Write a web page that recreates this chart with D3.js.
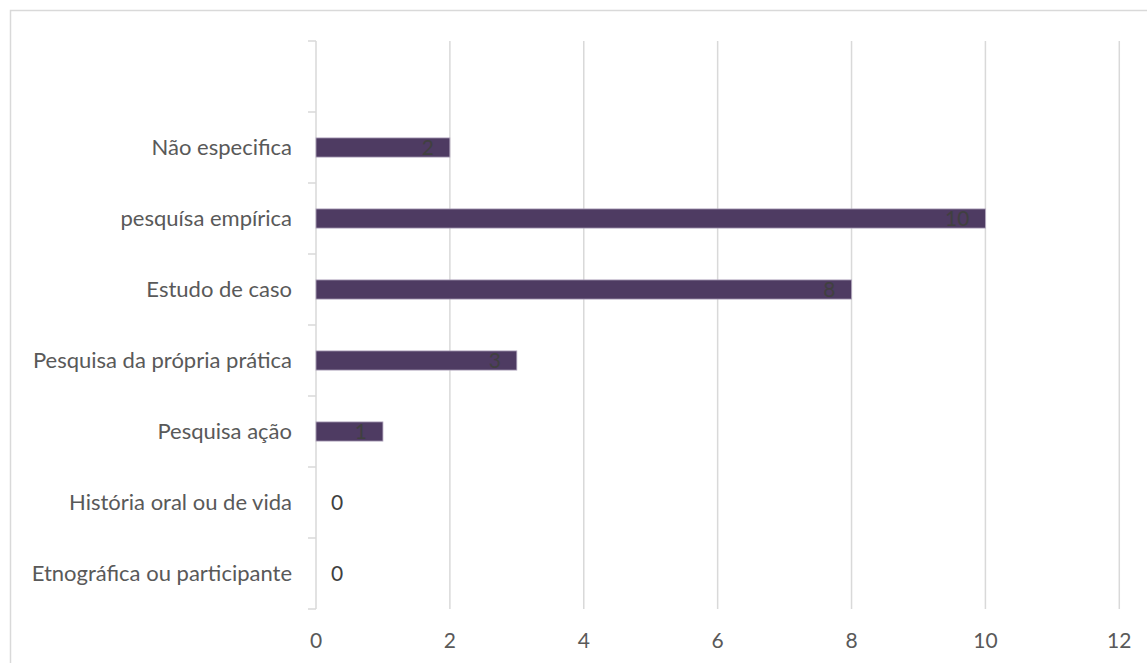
<!DOCTYPE html>
<html>
<head>
<meta charset="utf-8">
<script src="https://cdn.jsdelivr.net/npm/d3@7"></script>
<style>
  html, body { margin: 0; padding: 0; background: #ffffff; }
  svg { display: block; }
  text { font-family: Lato, "Open Sans", sans-serif; }
</style>
</head>
<body>
<svg id="chart" width="1147" height="663"></svg>
<script>
// ---- data (bottom to top as drawn) ----
const categories = [
  "Etnográfica ou participante",
  "História oral ou de vida",
  "Pesquisa ação",
  "Pesquisa da própria prática",
  "Estudo de caso",
  "pesquísa empírica",
  "Não especifica",
  ""
];
const values = [0, 0, 1, 3, 8, 10, 2, null];
const xTicks = [0, 2, 4, 6, 8, 10, 12];

(function () {
const svg = d3.select("#chart");
const W = 1147, H = 663;

svg.append("rect")
  .attr("x", 10.5).attr("y", 10.5)
  .attr("width", W + 20).attr("height", H + 20)
  .attr("fill", "#ffffff")
  .attr("stroke", "#d9d9d9").attr("stroke-width", 1.5);

const pLeft = 316, pRight = 1119.3, pTop = 41, pBottom = 609;

const x = d3.scaleLinear().domain([0, 12]).range([pLeft, pRight]);
const keys = d3.range(categories.length).map(String);
const y = d3.scaleBand().domain(keys)
  .range([pBottom, pTop]).paddingInner(0.73).paddingOuter(0.365);
const band = d3.scaleBand().domain(keys).range([pBottom, pTop]);

svg.append("g").selectAll("line")
  .data(xTicks.filter(t => t > 0))
  .join("line")
  .attr("x1", d => x(d)).attr("x2", d => x(d))
  .attr("y1", pTop).attr("y2", pBottom)
  .attr("stroke", "#d9d9d9").attr("stroke-width", 1.5);

svg.append("line")
  .attr("x1", pLeft).attr("x2", pLeft).attr("y1", pTop).attr("y2", pBottom)
  .attr("stroke", "#d9d9d9").attr("stroke-width", 1.5);
const bounds = d3.range(categories.length + 1).map(i => pBottom - i * band.step());
svg.append("g").selectAll("line")
  .data(bounds).join("line")
  .attr("x1", pLeft - 8).attr("x2", pLeft)
  .attr("y1", d => d).attr("y2", d => d)
  .attr("stroke", "#d9d9d9").attr("stroke-width", 1.5);

svg.append("g").selectAll("text")
  .data(categories).join("text")
  .attr("x", pLeft - 24)
  .attr("y", (d, i) => band(String(i)) + band.bandwidth() / 2)
  .attr("dy", "0.36em")
  .attr("text-anchor", "end")
  .attr("font-size", 22)
  .attr("fill", "#595959")
  .text(d => d);

svg.append("g").selectAll("text")
  .data(xTicks).join("text")
  .attr("x", d => x(d)).attr("y", 648)
  .attr("text-anchor", "middle")
  .attr("font-size", 21)
  .attr("fill", "#595959")
  .text(d => d);

const idx = d3.range(categories.length).filter(i => values[i] !== null);
svg.append("g").selectAll("rect")
  .data(idx.filter(i => values[i] > 0)).join("rect")
  .attr("x", x(0))
  .attr("y", i => y(String(i)))
  .attr("width", i => x(values[i]) - x(0))
  .attr("height", y.bandwidth())
  .attr("fill", "#4e3b62")
  .attr("stroke", "#b3a8bf").attr("stroke-width", 0.8);

svg.append("g").selectAll("text")
  .data(idx).join("text")
  .attr("x", i => values[i] > 0 ? x(values[i]) - 16 : x(0) + 15)
  .attr("y", i => band(String(i)) + band.bandwidth() / 2)
  .attr("dy", "0.36em")
  .attr("text-anchor", i => values[i] > 0 ? "end" : "start")
  .attr("font-size", 21)
  .attr("fill", "#404040")
  .text(i => values[i]);
})();
</script>
</body>
</html>
